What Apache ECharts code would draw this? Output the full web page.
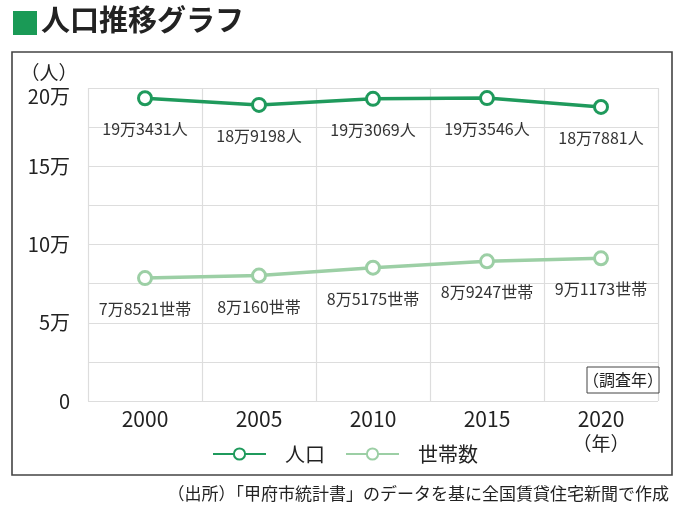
<!DOCTYPE html>
<html lang="ja">
<head>
    <meta charset="UTF-8">
    <title>人口推移グラフ</title>
    <script type="text/javascript" src="https://cdn.jsdelivr.net/npm/echarts@6/dist/echarts.min.js"></script>
</head>
<style>
    html, body {
        margin: 0;
        padding: 0;
        background-color: #fff;
    }
    #chart {
        width: 680px;
        height: 516px;
    }
</style>
<body>
<div id="chart"></div>
</body>
<script>
    // 調査年
    var years = ['2000', '2005', '2010', '2015', '2020'];
    // 人口（人）
    var population = [193431, 189198, 193069, 193546, 187881];
    // 世帯数
    var households = [78521, 80160, 85175, 89247, 91173];
    // 目盛りラベル（5万ごと）
    var yTickValues = [0, 50000, 100000, 150000, 200000];
    var yTickLabels = ['0', '5万', '10万', '15万', '20万'];

    var FONT = '"Noto Sans CJK JP", "Noto Sans", sans-serif';
    var GREEN = '#1f9a5c';
    var LIGHT = '#9ccfa5';

    function manLabel(v, unit) {
        return Math.floor(v / 10000) + '万' + (v % 10000) + unit;
    }

    var myChart = echarts.init(document.getElementById('chart'));

    var option = {
        backgroundColor: '#fff',
        textStyle: { fontFamily: FONT },
        animation: false,
        grid: { left: 88, right: 22, top: 88, bottom: 115 },
        legend: {
            data: ['人口', '世帯数'],
            left: 207,
            top: 439,
            itemWidth: 53,
            itemHeight: 14,
            itemGap: 20,
            textStyle: { fontSize: 20, color: '#222', fontFamily: FONT, padding: [0, 0, 0, 14] }
        },
        xAxis: {
            type: 'category',
            data: years,
            boundaryGap: true,
            axisLine: { show: false },
            axisTick: { show: false },
            axisLabel: { fontSize: 21, color: '#222', margin: 8, fontFamily: FONT },
            splitLine: { show: true, lineStyle: { color: '#dddddd', width: 1.2 } }
        },
        yAxis: {
            type: 'value',
            min: 0,
            max: 200000,
            interval: 25000,
            axisLine: { show: false },
            axisTick: { show: false },
            axisLabel: {
                fontSize: 20,
                color: '#222',
                margin: 18,
                fontFamily: FONT,
                formatter: function (v) {
                    var i = yTickValues.indexOf(v);
                    if (i < 0) return '';
                    // 最上段は目盛り線の下に置く
                    return v === 200000 ? '{top|' + yTickLabels[i] + '}' : yTickLabels[i];
                },
                rich: {
                    top: { fontSize: 20, color: '#222', fontFamily: FONT, padding: [17, 0, 0, 0] }
                }
            },
            splitLine: { show: true, lineStyle: { color: '#dddddd', width: 1.2 } }
        },
        series: [
            {
                name: '人口',
                type: 'line',
                data: population,
                symbol: 'circle',
                symbolSize: 13,
                lineStyle: { color: GREEN, width: 3.5 },
                itemStyle: { color: '#fff', borderColor: GREEN, borderWidth: 3 },
                label: {
                    show: true,
                    position: 'bottom',
                    distance: 15,
                    fontSize: 16,
                    color: '#333',
                    fontFamily: FONT,
                    formatter: function (p) { return manLabel(p.value, '人'); }
                }
            },
            {
                name: '世帯数',
                type: 'line',
                data: households,
                symbol: 'circle',
                symbolSize: 13,
                lineStyle: { color: LIGHT, width: 3.5 },
                itemStyle: { color: '#fff', borderColor: LIGHT, borderWidth: 3 },
                label: {
                    show: true,
                    position: 'bottom',
                    distance: 15,
                    fontSize: 16,
                    color: '#333',
                    fontFamily: FONT,
                    formatter: function (p) { return manLabel(p.value, '世帯'); }
                }
            }
        ],
        graphic: [
            // タイトル
            { type: 'rect', shape: { x: 13, y: 11, width: 24, height: 24 }, style: { fill: '#1a9a56' } },
            {
                type: 'text', left: 41, top: 5,
                style: { text: '人口推移グラフ', font: 'bold 29px ' + FONT, fill: '#222' }
            },
            // 外枠
            {
                type: 'rect', shape: { x: 12, y: 52, width: 660, height: 423 },
                style: { fill: null, stroke: '#444', lineWidth: 1.6 }, z: 10
            },
            // 単位
            {
                type: 'text', x: 49, y: 73,
                style: { text: '（人）', font: '19px ' + FONT, fill: '#222', align: 'center', verticalAlign: 'middle' }
            },
            // 調査年
            {
                type: 'rect', shape: { x: 587, y: 367, width: 72, height: 26 },
                style: { fill: '#fff', stroke: '#444', lineWidth: 1 }, z: 10
            },
            {
                type: 'text', x: 623, y: 380, z: 11,
                style: { text: '（調査年）', font: '16px ' + FONT, fill: '#222', align: 'center', verticalAlign: 'middle' }
            },
            {
                type: 'text', x: 601, y: 444,
                style: { text: '（年）', font: '19px ' + FONT, fill: '#222', align: 'center', verticalAlign: 'middle' }
            },
            // 出所
            {
                type: 'text', x: 669, y: 494,
                style: {
                    text: '（出所）「甲府市統計書」のデータを基に全国賃貸住宅新聞で作成',
                    font: '17px ' + FONT, fill: '#222', align: 'right', verticalAlign: 'middle'
                }
            }
        ]
    };
    myChart.setOption(option);
</script>
</html>
